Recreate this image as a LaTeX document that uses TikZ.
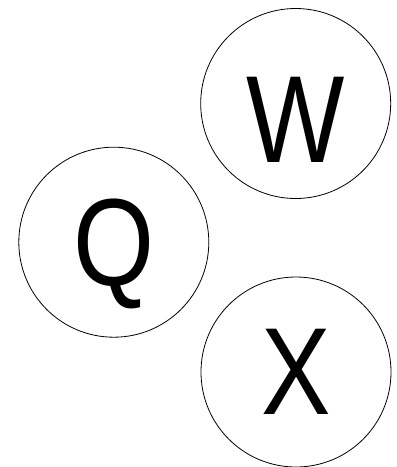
\documentclass[tikz,border=0pt]{standalone}
\usepackage{fontspec}
\setmainfont{Liberation Sans}
\usetikzlibrary{positioning}
\newcommand{\bigletter}[1]{\scalebox{0.84}[1]{#1}}

\begin{document}
\begin{tikzpicture}[
    x=1pt,y=-1pt,
    ball/.style={draw,circle,line width=0.8pt,minimum size=190pt,inner sep=0pt,
      font=\fontsize{124}{124}\selectfont}
]
\useasboundingbox (0,0) rectangle (397,467);
\node[ball] (w) at (295.7,103.5) {\raisebox{-16pt}[\height][0pt]{\bigletter{W}}};
\node[ball] (q) at (113.8,242.2) {\raisebox{0pt}[\height][0pt]{\bigletter{Q}}};
\node[ball] (x) at (296,372) {\bigletter{X}};
\end{tikzpicture}
\end{document}
